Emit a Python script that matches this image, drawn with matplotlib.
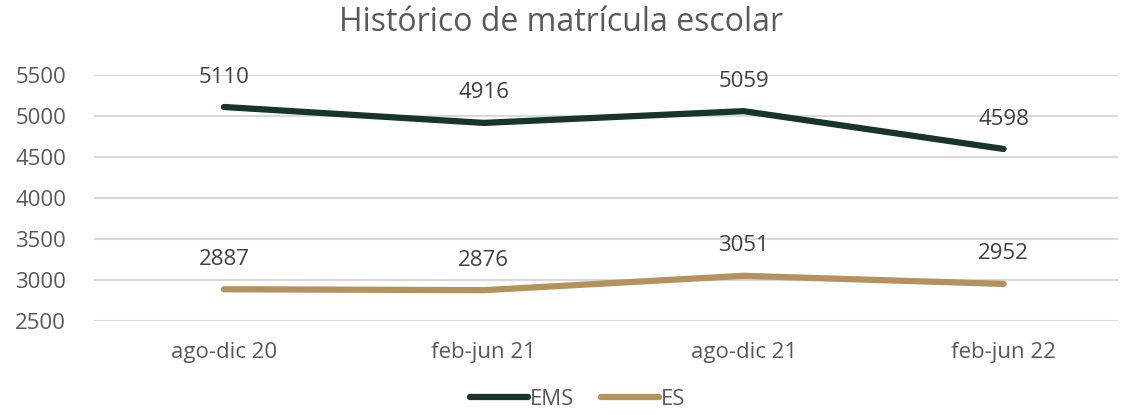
import numpy as np
import matplotlib
matplotlib.use('Agg')
import matplotlib.pyplot as plt

plt.rcParams['font.family'] = ['Open Sans', 'DejaVu Sans']

periodos = ['ago-dic 20', 'feb-jun 21', 'ago-dic 21', 'feb-jun 22']
ems = [5110, 4916, 5059, 4598]
es = [2887, 2876, 3051, 2952]
series = {'EMS': ems, 'ES': es}
colores = {'EMS': '#17352b', 'ES': '#b5915e'}

fig = plt.figure(figsize=(11.22, 4.15), dpi=100)
ax = fig.add_axes([94 / 1122, 1 - 321 / 415, 1024 / 1122, 246 / 415])

x = np.arange(len(periodos))
for nombre, valores in series.items():
    ax.plot(x, valores, color=colores[nombre], lw=4.5, solid_capstyle='round', label=nombre)
    for xi, v in zip(x, valores):
        ax.annotate(str(v), (xi, v), xytext=(0, 14), textcoords='offset points',
                    ha='center', va='bottom', fontsize=16, color='#404040')

ax.set_ylim(2500, 5500)
ax.set_yticks(np.arange(2500, 5501, 500))
ax.set_xlim(-0.5, 3.44)
ax.set_xticks(x)
ax.set_xticklabels(periodos)
ax.tick_params(axis='both', length=0, labelsize=16, labelcolor='#595959')
ax.tick_params(axis='x', pad=15)
ax.tick_params(axis='y', pad=20)
ax.grid(axis='y', color='#d9d9d9', lw=1.5)
ax.set_axisbelow(True)
for s in ax.spines.values():
    s.set_visible(False)

fig.suptitle('Histórico de matrícula escolar', y=0.985, va='top', fontsize=23, color='#595959')
fig.legend(loc='lower center', bbox_to_anchor=(0.515, -0.035), ncol=2, frameon=False,
           fontsize=16, handlelength=2.6, handletextpad=0.1, columnspacing=1.2,
           labelcolor='#595959')

fig.savefig('out.png', dpi=100)
